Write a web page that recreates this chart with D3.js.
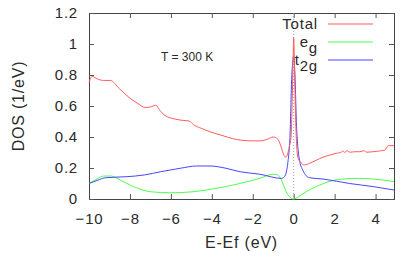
<!DOCTYPE html>
<html>
<head>
<meta charset="utf-8">
<script src="https://cdn.jsdelivr.net/npm/d3@7"></script>
<style>
  body { margin: 0; background: #fff; }
  svg text { font-family: "Liberation Sans", Arial, sans-serif; fill: #2a2a2a; }
</style>
</head>
<body>
<svg id="chart" width="415" height="264"></svg>
<script>
// DOS curves, [E - Ef, DOS]
const total = [
  [-10, 0.75], [-9.85, 0.79], [-9.6, 0.775], [-9.3, 0.765], [-8.97, 0.765], [-8.5, 0.71],
  [-8.0, 0.65], [-7.6, 0.615], [-7.25, 0.59], [-6.94, 0.596], [-6.75, 0.605], [-6.5, 0.565],
  [-6.3, 0.54], [-5.8, 0.516], [-5.4, 0.507], [-5.1, 0.503], [-4.9, 0.48], [-4.5, 0.455],
  [-4.1, 0.434], [-3.5, 0.41], [-3.0, 0.39], [-2.6, 0.38], [-2.0, 0.375], [-1.6, 0.375],
  [-1.3, 0.385], [-1.0, 0.40], [-0.8, 0.39], [-0.65, 0.35], [-0.54, 0.305], [-0.45, 0.275],
  [-0.37, 0.27], [-0.28, 0.30], [-0.21, 0.34], [-0.13, 0.40], [-0.07, 0.65], [-0.03, 0.9],
  [0, 1.04], [0.03, 0.9], [0.07, 0.65], [0.12, 0.42], [0.2, 0.27], [0.35, 0.235],
  [0.53, 0.22], [0.78, 0.23], [1.1, 0.25], [1.43, 0.27], [1.8, 0.285], [2.08, 0.295],
  [2.3, 0.30], [2.4, 0.31], [2.5, 0.30], [2.6, 0.312], [2.75, 0.302], [3.0, 0.305],
  [3.23, 0.305], [3.45, 0.312], [3.55, 0.302], [3.88, 0.305], [4.2, 0.31], [4.45, 0.316],
  [4.62, 0.344], [4.9, 0.344]
]
const eg = [
  [-10, 0.10], [-9.6, 0.13], [-9.3, 0.148], [-8.9, 0.148], [-8.48, 0.123], [-7.83, 0.08],
  [-7.0, 0.047], [-6.0, 0.04], [-4.9, 0.047], [-3.76, 0.069], [-2.63, 0.10], [-1.66, 0.133],
  [-1.0, 0.16], [-0.78, 0.155], [-0.6, 0.123], [-0.37, 0.047], [-0.12, 0.005], [0, 0],
  [0.12, 0.005], [0.3, 0.02], [0.61, 0.047], [1.27, 0.09], [2.08, 0.123], [3.06, 0.133],
  [3.88, 0.129], [4.9, 0.112]
]
const t2g = [
  [-10, 0.10], [-9.6, 0.12], [-9.2, 0.137], [-8.15, 0.144], [-7.3, 0.155], [-6.5, 0.176],
  [-5.55, 0.198], [-4.74, 0.213], [-4.1, 0.213], [-3.3, 0.198], [-2.63, 0.176], [-1.66, 0.16],
  [-0.6, 0.133], [-0.45, 0.144], [-0.35, 0.18], [-0.29, 0.23], [-0.17, 0.445], [-0.1, 0.77],
  [0, 0.92], [0.07, 0.77], [0.13, 0.5], [0.2, 0.34], [0.3, 0.24], [0.44, 0.187],
  [0.77, 0.137], [1.43, 0.129], [2.73, 0.10], [3.88, 0.08], [4.9, 0.058]
]

const xTicks = [-10, -8, -6, -4, -2, 0, 2, 4]
const yTicks = [0, 0.2, 0.4, 0.6, 0.8, 1, 1.2]

// plot box
const MARGIN = { top: 13, right: 21, bottom: 65, left: 89 }
const W = 415, H = 264
const w = W - MARGIN.left - MARGIN.right
const h = H - MARGIN.top - MARGIN.bottom

const svg = d3.select('#chart')
const g = svg.append('g').attr('transform', `translate(${MARGIN.left},${MARGIN.top})`)

const x = d3.scaleLinear().domain([-10, 4.9]).range([0, w])
const y = d3.scaleLinear().domain([0, 1.2]).range([h, 0])

const styleAxis = (sel, labels) => {
  sel.select('.domain').attr('stroke', '#444').attr('stroke-width', 1)
  sel.selectAll('.tick line').attr('stroke', '#555')
  sel.selectAll('.tick text')
    .style('font-size', '15px')
    .style('letter-spacing', '0.8px')
    .attr('fill', '#2a2a2a')
  if (!labels) sel.selectAll('.tick text').remove()
}

// inward ticks on all four sides, gnuplot style
g.append('g').attr('transform', `translate(0,${h})`)
  .call(d3.axisBottom(x).tickValues(xTicks).tickSize(-5).tickPadding(14).tickFormat(d3.format('d')))
  .call((s) => styleAxis(s, true))
g.append('g')
  .call(d3.axisTop(x).tickValues(xTicks).tickSize(-5))
  .call((s) => styleAxis(s, false))
g.append('g')
  .call(d3.axisLeft(y).tickValues(yTicks).tickSize(-5).tickPadding(11).tickFormat(d3.format('~g')))
  .call((s) => styleAxis(s, true))
g.append('g').attr('transform', `translate(${w},0)`)
  .call(d3.axisRight(y).tickValues(yTicks).tickSize(-5))
  .call((s) => styleAxis(s, false))

// Fermi level marker
g.append('line')
  .attr('x1', x(0)).attr('x2', x(0))
  .attr('y1', 0).attr('y2', h)
  .attr('stroke', '#888')
  .attr('stroke-width', 0.8)
  .attr('stroke-dasharray', '1,2')

const line = d3.line()
  .x((d) => x(d[0]))
  .y((d) => y(d[1]))
  .curve(d3.curveMonotoneX)

const RED = '#ff5a5a', GREEN = '#4cff4c', BLUE = '#4646ff'

const series = [
  { name: 'eg', data: eg, color: GREEN },
  { name: 't2g', data: t2g, color: BLUE },
  { name: 'Total', data: total, color: RED }
]

g.selectAll('path.dos')
  .data(series)
  .join('path')
  .attr('class', 'dos')
  .attr('fill', 'none')
  .attr('stroke', (d) => d.color)
  .attr('stroke-width', 1)
  .attr('d', (d) => line(d.data))

// legend
const legend = svg.append('g')
const legendRows = [
  { main: 'Total', sub: '', color: RED, y: 24 },
  { main: 'e', sub: 'g', color: GREEN, y: 42 },
  { main: 't', sub: '2g', color: BLUE, y: 60 }
]
legendRows.forEach((r) => {
  const t = legend.append('text')
    .attr('x', 318)
    .attr('y', r.y + 5)
    .attr('text-anchor', 'end')
    .style('font-size', '15px')
    .style('letter-spacing', '0.8px')
  t.append('tspan').text(r.main)
  if (r.sub) {
    t.append('tspan').attr('dy', 6).text(r.sub)
  }
  legend.append('line')
    .attr('x1', 328).attr('x2', 373)
    .attr('y1', r.y).attr('y2', r.y)
    .attr('stroke', r.color)
    .attr('stroke-width', 1)
})

svg.append('text')
  .attr('x', 161).attr('y', 61)
  .style('font-size', '12px')
  .text('T = 300 K')

// axis titles
svg.append('text')
  .attr('x', MARGIN.left + w / 2).attr('y', 248)
  .attr('text-anchor', 'middle')
  .style('font-size', '16px')
  .style('letter-spacing', '0.8px')
  .text('E-Ef (eV)')

svg.append('text')
  .attr('transform', `translate(24,${MARGIN.top + h / 2}) rotate(-90)`)
  .attr('text-anchor', 'middle')
  .style('font-size', '16px')
  .style('letter-spacing', '0.8px')
  .text('DOS (1/eV)')
</script>
</body>
</html>
